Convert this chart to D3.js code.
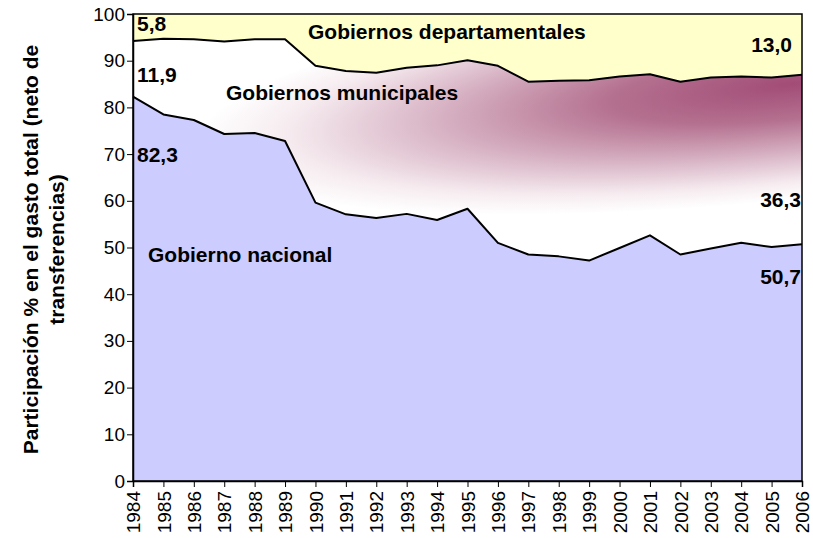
<!DOCTYPE html>
<html>
<head>
<meta charset="utf-8">
<script src="https://cdn.jsdelivr.net/npm/d3@7"></script>
<style>
  body { margin: 0; background: #fff; }
  text { font-family: "Liberation Sans", Arial, sans-serif; }
</style>
</head>
<body>
<div id="chart"></div>
<script>
// data (percent of total spending)
var years = [1984, 1985, 1986, 1987, 1988, 1989, 1990, 1991, 1992, 1993, 1994, 1995,
             1996, 1997, 1998, 1999, 2000, 2001, 2002, 2003, 2004, 2005, 2006];
var nacional = [82.3, 78.5, 77.3, 74.3, 74.5, 72.8, 59.6, 57.1, 56.3, 57.2, 55.9, 58.3,
                51.0, 48.5, 48.1, 47.2, 49.9, 52.6, 48.5, 49.8, 51.0, 50.1, 50.7];
var municipales = [11.9, 16.2, 17.3, 19.8, 20.1, 21.8, 29.3, 30.7, 31.1, 31.3, 33.1, 31.8,
                   37.9, 37.0, 37.6, 38.6, 36.7, 34.5, 37.0, 36.6, 35.6, 36.3, 36.3];
var departamentales = [5.8, 5.3, 5.4, 5.9, 5.4, 5.4, 11.1, 12.2, 12.6, 11.5, 11.0, 9.9,
                       11.1, 14.5, 14.3, 14.2, 13.4, 12.9, 14.5, 13.6, 13.4, 13.6, 13.0];
var yTicks = [0, 10, 20, 30, 40, 50, 60, 70, 80, 90, 100];
var keys = ["nacional", "municipales", "departamentales"];

// set the dimensions and margins of the graph
var margin = {top: 14, right: 11, bottom: 57, left: 133},
    width = 813 - margin.left - margin.right,
    height = 538 - margin.top - margin.bottom;

var svg = d3.select("#chart")
  .append("svg")
    .attr("width", 813)
    .attr("height", 538)
  .append("g")
    .attr("transform", "translate(" + margin.left + "," + margin.top + ")");

// table for the stack
var table = years.map(function(yr, i) {
  return {year: yr, nacional: nacional[i], municipales: municipales[i], departamentales: departamentales[i]};
});
var series = d3.stack().keys(keys)(table);

var x = d3.scalePoint()
  .domain(years)
  .range([0, width]);

var y = d3.scaleLinear()
  .domain([0, 100])
  .range([height, 0]);

// gradient for the municipal band (dark in the top right, fading to white)
var defs = d3.select("svg").append("defs");
var grad = defs.append("radialGradient")
  .attr("id", "munGrad")
  .attr("gradientUnits", "userSpaceOnUse")
  .attr("cx", 0).attr("cy", 0).attr("r", 1)
  .attr("gradientTransform", "translate(" + (width - 10) + ",70) rotate(-6) scale(600,115)");
grad.append("stop").attr("offset", "0").attr("stop-color", "#A24C76");
grad.append("stop").attr("offset", "0.3").attr("stop-color", "#B4708F");
grad.append("stop").attr("offset", "0.6").attr("stop-color", "#D8B4C5");
grad.append("stop").attr("offset", "0.85").attr("stop-color", "#F6ECF0");
grad.append("stop").attr("offset", "1").attr("stop-color", "#FFFFFF");

var fills = {nacional: "#CCCCFF", municipales: "url(#munGrad)", departamentales: "#FFFFCC"};

var area = d3.area()
  .x(function(d) { return x(d.data.year); })
  .y0(function(d) { return y(d[0]); })
  .y1(function(d) { return y(d[1]); });

svg.selectAll(".layer")
  .data(series)
  .enter()
  .append("path")
    .attr("class", "layer")
    .attr("fill", function(d) { return fills[d.key]; })
    .attr("d", area);

// boundary lines between the bands
var line = d3.line()
  .x(function(d) { return x(d.data.year); })
  .y(function(d) { return y(d[1]); });

svg.selectAll(".edge")
  .data(series.slice(0, 2))
  .enter()
  .append("path")
    .attr("class", "edge")
    .attr("fill", "none")
    .attr("stroke", "black")
    .attr("stroke-width", 2)
    .attr("stroke-linejoin", "round")
    .attr("d", line);

// plot frame
svg.append("rect")
  .attr("width", width)
  .attr("height", height)
  .attr("fill", "none")
  .attr("stroke", "black")
  .attr("stroke-width", 1.5);

// Y axis
var yAxis = svg.append("g")
  .call(d3.axisLeft(y).tickValues(yTicks).tickSize(6).tickPadding(2));
yAxis.select(".domain").attr("stroke-width", 1.5);
yAxis.selectAll("text")
  .style("font-size", "19px")
  .attr("fill", "black");

// X axis
var xAxis = svg.append("g")
  .attr("transform", "translate(0," + height + ")")
  .call(d3.axisBottom(x).tickSize(6));
xAxis.select(".domain").attr("stroke-width", 1.5);
xAxis.selectAll("text")
  .style("font-size", "19px")
  .attr("fill", "black")
  .attr("transform", "rotate(-90)")
  .attr("x", -10)
  .attr("y", 0)
  .attr("dy", "0.35em")
  .style("text-anchor", "end");

// Y axis title
var title = svg.append("text")
  .attr("transform", "translate(" + (-95) + "," + (height / 2 + 2) + ")rotate(-90)")
  .attr("text-anchor", "middle")
  .style("font-size", "21px")
  .style("font-weight", "bold");
title.append("tspan").attr("x", 0).attr("y", 0).text("Participación % en el gasto total (neto de");
title.append("tspan").attr("x", 0).attr("y", 26).text("transferencias)");

// labels inside the chart
var labels = [
  {t: "5,8", x: 4, y: 17, a: "start"},
  {t: "11,9", x: 4, y: 68, a: "start"},
  {t: "82,3", x: 4, y: 148, a: "start"},
  {t: "Gobiernos departamentales", x: 175, y: 25, a: "start"},
  {t: "13,0", x: 659, y: 38, a: "end"},
  {t: "Gobiernos municipales", x: 93, y: 86, a: "start"},
  {t: "36,3", x: 668, y: 193, a: "end"},
  {t: "Gobierno nacional", x: 15, y: 248, a: "start"},
  {t: "50,7", x: 668, y: 270, a: "end"}
];

svg.selectAll(".lbl")
  .data(labels)
  .enter()
  .append("text")
    .attr("class", "lbl")
    .attr("x", function(d) { return d.x; })
    .attr("y", function(d) { return d.y; })
    .attr("text-anchor", function(d) { return d.a; })
    .style("font-size", "21px")
    .style("font-weight", "bold")
    .text(function(d) { return d.t; });
</script>
</body>
</html>
